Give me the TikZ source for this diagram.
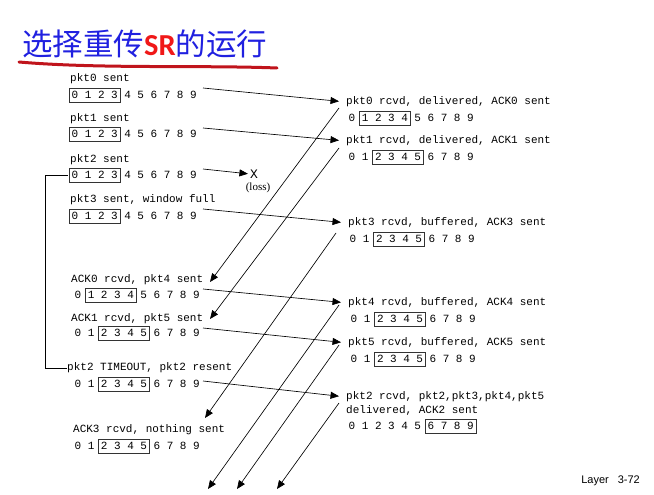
\documentclass[tikz,border=0pt]{standalone}
\usepackage{fontspec}
\usepackage{xcolor}
\usepackage{tikz}
\usetikzlibrary{
  arrows.meta,
  calc
}
\setmainfont{Liberation Serif}
\setmonofont{Liberation Mono}
\setsansfont{Liberation Sans}
\newfontfamily\cjk{Noto Sans CJK SC}
\newfontfamily\srfont{Carlito}
\definecolor{srBlue}{HTML}{2020E0}
\definecolor{srRed}{HTML}{F01818}
\definecolor{srInk}{HTML}{C0141C}

% one row of sequence numbers, window boxed from #4 to #5
\newcommand{\winrow}[5]{%
  \foreach \d in {0,...,9}
    \node[digit] (#1-\d) at ({#2+13.15*\d},#3) {\d};
  \draw[winbox] ({#2+13.15*#4-6},#3-7) rectangle ({#2+13.15*#5+5.5},#3+7);
}

\begin{document}
\begin{tikzpicture}[x=1pt, y=-1pt, font=\ttfamily\fontsize{11}{12}\selectfont,
  lbl/.style={anchor=west, inner sep=0pt},
  digit/.style={inner sep=0pt},
  winbox/.style={draw=black!80, line width=0.7pt},
  msg/.style={line width=0.65pt, -{Triangle[length=8.5pt, width=7pt]}},
  ]
  \useasboundingbox (0,0) rectangle (654,495);

  % title
  \node[anchor=west, inner sep=0pt, font=\cjk\fontsize{30.5}{32}\selectfont, text=srBlue] (title) at (22,44)
    {选择重传{\srfont\bfseries\color{srRed}SR}的运行};
  \draw[srInk, line width=3pt, line cap=round] (19,62) .. controls (100,69) and (200,65) .. (277,68);

  % sender side
  \node[lbl] (sl0) at (70,79) {pkt0 sent};
  \winrow{r0}{75}{95}{0}{3}
  \node[lbl] (sl1) at (70,119) {pkt1 sent};
  \winrow{r1}{75}{134}{0}{3}
  \node[lbl] (sl2) at (70,160) {pkt2 sent};
  \winrow{r2}{75}{175}{0}{3}
  \node[lbl] (sl3) at (70,200) {pkt3 sent, window full};
  \winrow{r3}{75}{216}{0}{3}
  \node[lbl] (sl4) at (71,280) {ACK0 rcvd, pkt4 sent};
  \winrow{r4}{78}{295}{1}{4}
  \node[lbl] (sl5) at (71,319) {ACK1 rcvd, pkt5 sent};
  \winrow{r5}{78}{333}{2}{5}
  \node[lbl] (sl6) at (67,368) {pkt2 TIMEOUT, pkt2 resent};
  \winrow{r6}{78}{384}{2}{5}
  \node[lbl] (sl7) at (73,430) {ACK3 rcvd, nothing sent};
  \winrow{r7}{78}{446}{2}{5}

  % receiver side
  \node[lbl] (rl0) at (346,102) {pkt0 rcvd, delivered, ACK0 sent};
  \winrow{q0}{352}{118}{1}{4}
  \node[lbl] (rl1) at (346,141) {pkt1 rcvd, delivered, ACK1 sent};
  \winrow{q1}{352}{157}{2}{5}
  \node[lbl] (rl3) at (348,223) {pkt3 rcvd, buffered, ACK3 sent};
  \winrow{q3}{353}{239}{2}{5}
  \node[lbl] (rl4) at (348,303) {pkt4 rcvd, buffered, ACK4 sent};
  \winrow{q4}{354}{319}{2}{5}
  \node[lbl] (rl5) at (348,343) {pkt5 rcvd, buffered, ACK5 sent};
  \winrow{q5}{354}{359}{2}{5}
  \node[lbl] (rl2) at (346,397) {pkt2 rcvd, pkt2,pkt3,pkt4,pkt5};
  \node[lbl] (rl2b) at (346,410) {delivered, ACK2 sent};
  \winrow{q2}{352}{426}{6}{9}

  % lost packet
  \node[inner sep=0pt, font=\ttfamily\fontsize{13}{13}\selectfont] (loss) at (254,174) {X};
  \node[inner sep=0pt, font=\rmfamily\fontsize{11}{12}\selectfont] (losslbl) at (258,188) {(loss)};

  % timer
  \draw[line width=0.6pt] (sl6.west) -- ++(-22,0) |- ([xshift=-3pt]r2-0.west);

  % end points
  \foreach \n/\x/\y in {p0/203/88, p1/203/128, p2/203/169, p3/203/209,
      p4/203/289, p5/203/328, p6/203/381,
      a0s/339/108, a0e/210/282, a1s/339/148, a1e/210/319,
      a3s/336/233, a3e/205/418, a4s/339/305, a4e/208/489,
      a5s/339/345, a5e/237/489, a2s/339/403, a2e/277/489}
    \coordinate (\n) at (\x,\y);

  % packets
  \foreach \a/\b in {p0/rl0, p1/rl1, p3/rl3, p4/rl4, p5/rl5, p6/rl2}
    \draw[msg, shorten >=7pt] (\a) -- (\b.west);
  \draw[msg, shorten >=2pt] (p2) -- (loss.west);

  % acks
  \foreach \a/\b in {a0s/a0e, a1s/a1e, a3s/a3e, a4s/a4e, a5s/a5e, a2s/a2e}
    \draw[msg] (\a) -- (\b);

  \node[anchor=east, inner sep=0pt, font=\sffamily\fontsize{11}{12}\selectfont] (pageno) at (640,481) {Layer\hspace{9pt}3-72};
\end{tikzpicture}
\end{document}
